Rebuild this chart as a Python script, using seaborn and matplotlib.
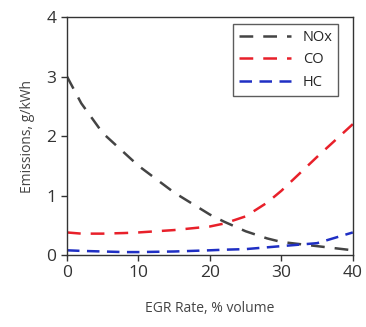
import numpy as np
import pandas as pd
import matplotlib
matplotlib.use('Agg')
import matplotlib.pyplot as plt
import seaborn as sns

egr = [0, 2, 5, 8, 10, 15, 20, 22, 25, 28, 30, 35, 40]
nox = [3.0, 2.55, 2.05, 1.72, 1.50, 1.05, 0.68, 0.56, 0.40, 0.28, 0.22, 0.15, 0.08]
co = [0.38, 0.36, 0.36, 0.37, 0.38, 0.42, 0.48, 0.53, 0.65, 0.88, 1.08, 1.65, 2.20]
hc = [0.08, 0.07, 0.06, 0.05, 0.05, 0.06, 0.08, 0.09, 0.10, 0.13, 0.15, 0.20, 0.38]

series = ['NOx', 'CO', 'HC']
colors = ['#444444', '#e8202a', '#1f2fc4']

df = pd.DataFrame({
    'EGR': egr * 3,
    'value': nox + co + hc,
    'species': np.repeat(series, len(egr)),
})

sns.set_style('ticks')
plt.rcParams['font.family'] = ['Open Sans', 'DejaVu Sans']

fig = plt.figure(figsize=(3.66, 3.27), dpi=100)
ax = fig.add_axes([0.183, 0.22, 0.781, 0.728])

sns.lineplot(data=df, x='EGR', y='value', hue='species', style='species',
             palette=dict(zip(series, colors)),
             dashes={'NOx': (5.5, 4), 'CO': (5.5, 4), 'HC': (5, 3)},
             linewidth=1.8, ax=ax)

ax.set_xlim(0, 40)
ax.set_ylim(0, 4)
ax.set_xticks([0, 10, 20, 30, 40])
ax.set_yticks([0, 1, 2, 3, 4])
ax.tick_params(labelsize=12.5, colors='#333333', length=4, width=1)
for s in ax.spines.values():
    s.set_visible(True)
    s.set_color('#333333')
    s.set_linewidth(1)

ax.set_xlabel('EGR Rate, % volume', fontsize=10, color='#444444', labelpad=14)
ax.set_ylabel('Emissions, g/kWh', fontsize=10, color='#444444', labelpad=8)

leg = ax.legend(loc='upper right', fontsize=10.5, frameon=True, fancybox=False,
                edgecolor='#333333', handlelength=3.6, borderaxespad=0.5,
                bbox_to_anchor=(0.975, 1.0))
leg.get_frame().set_linewidth(1)

fig.savefig('out.png', dpi=100)
